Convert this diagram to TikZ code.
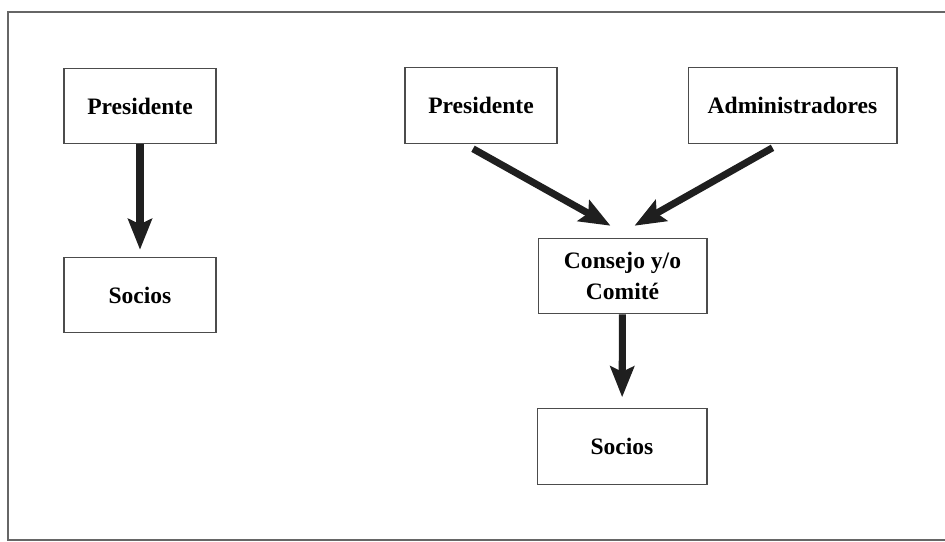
\documentclass[tikz,border=0pt]{standalone}
\usepackage{fontspec}
\setmainfont{Liberation Serif}
\usetikzlibrary{arrows.meta,calc}

\begin{document}
\begin{tikzpicture}[x=0.02cm,y=-0.02cm,>={Stealth[length=17.5pt,width=13.5pt,inset=3pt]}]
	
	% ------------------------------------------------------------
	% Styles
	% ------------------------------------------------------------
	\tikzset{
		frame/.style={draw=black!60,line width=0.8pt},
		org/.style={draw=black!70,line width=0.6pt,fill=white,
			minimum height=1.51cm,inner sep=2pt,align=center,
			font=\fontsize{13.4}{17.6}\selectfont\bfseries},
		link/.style={->,line width=4pt,draw=black!88,fill=black!88}
	}
	
	\useasboundingbox (0,0) rectangle (945,541);
	
	% Outer frame (open on the right side)
	\draw[frame] (945,12) -- (8,12) -- (8,540) -- (945,540);
	
	% ============================================================
	% LEFT: Presidente -> Socios
	% ============================================================
	\node[org,minimum width=3.04cm] (presA)  at (140,106) {Presidente};
	\node[org,minimum width=3.04cm] (sociosA) at (140,295) {Socios};
	
	\draw[link,shorten >=0.14cm] (presA) -- (sociosA);
	
	% ============================================================
	% RIGHT: Presidente, Administradores -> Consejo y/o Comite -> Socios
	% ============================================================
	\node[org,minimum width=3.04cm] (presB)   at (481,105.5) {Presidente};
	\node[org,minimum width=4.18cm] (admin)   at (792.5,105.5) {Administradores};
	\node[org,minimum width=3.38cm] (consejo) at (622.5,276) {Consejo y/o\\Comité};
	\node[org,minimum width=3.40cm] (sociosB) at (622,446.5) {Socios};
	
	% Free ends of the two slanted arrows
	\coordinate (presOut)  at ($(presB.south)+(-8,5)$);
	\coordinate (adminOut) at ($(admin.south)+(-20,4)$);
	\coordinate (consL)    at ($(consejo.north)+(-12,-12)$);
	\coordinate (consR)    at ($(consejo.north)+(12,-12)$);
	
	\draw[link] (presOut) -- (consL);
	\draw[link] (adminOut) -- (consR);
	\draw[link,shorten >=0.22cm] (consejo) -- (sociosB);
	
\end{tikzpicture}
\end{document}
